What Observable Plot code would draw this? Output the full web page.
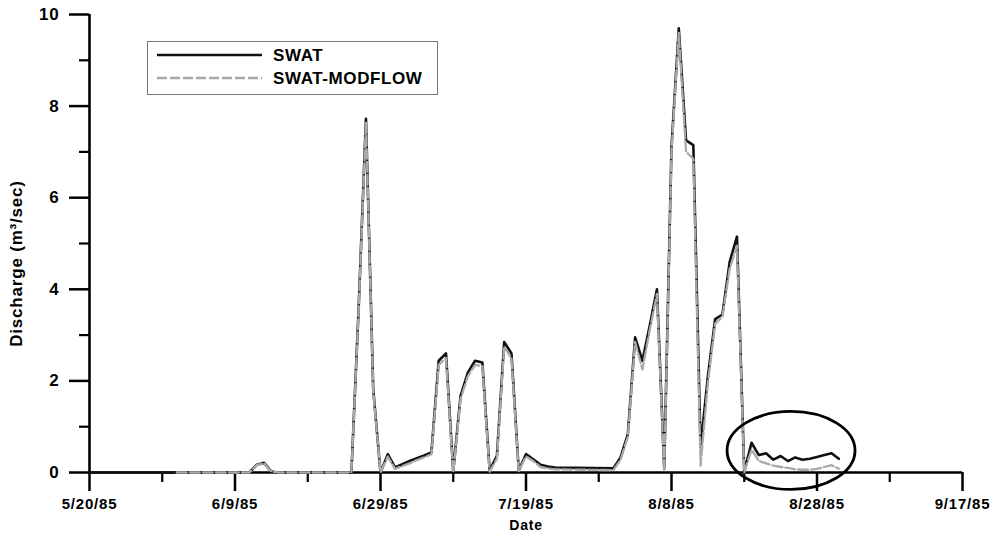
<!DOCTYPE html>
<html>
<head>
<meta charset="utf-8">
<script src="https://cdn.jsdelivr.net/npm/d3@7"></script>
<script src="https://cdn.jsdelivr.net/npm/@observablehq/plot@0.6"></script>
<style>
  html, body { margin: 0; padding: 0; background: #fff; }
  #chart { position: relative; width: 993px; height: 533px; font-family: "Liberation Sans", Arial, sans-serif; }
  #legend { position: absolute; left: 147px; top: 41px; }
</style>
</head>
<body>
<div id="chart"><div id="legend"></div></div>
<script>
// ---- data ----
const dates = [
  "1985-05-20","1985-06-01","1985-06-11","1985-06-12","1985-06-13","1985-06-14","1985-06-15","1985-06-25",
  "1985-06-26","1985-06-27","1985-06-28","1985-06-29","1985-06-30","1985-07-01","1985-07-02","1985-07-03",
  "1985-07-04","1985-07-05","1985-07-06","1985-07-07","1985-07-08","1985-07-09","1985-07-10","1985-07-11",
  "1985-07-12","1985-07-13","1985-07-14","1985-07-15","1985-07-16","1985-07-17","1985-07-18","1985-07-19",
  "1985-07-20","1985-07-21","1985-07-22","1985-07-23","1985-07-31","1985-08-01","1985-08-02","1985-08-03",
  "1985-08-04","1985-08-05","1985-08-06","1985-08-07","1985-08-08","1985-08-09","1985-08-10","1985-08-11",
  "1985-08-12","1985-08-13","1985-08-14","1985-08-15","1985-08-16","1985-08-17","1985-08-18","1985-08-19",
  "1985-08-20","1985-08-21","1985-08-22","1985-08-23","1985-08-24","1985-08-25","1985-08-26","1985-08-27",
  "1985-08-28","1985-08-29","1985-08-30","1985-08-31"
];
const swat = [
  0, 0, 0, 0.17, 0.21, 0.02, 0, 0,
  3.6, 7.72, 1.82, 0.0, 0.4, 0.11, 0.18, 0.25,
  0.31, 0.37, 0.44, 2.44, 2.6, 0.03, 1.67, 2.18,
  2.44, 2.4, 0.05, 0.36, 2.85, 2.6, 0.05, 0.4,
  0.29, 0.17, 0.13, 0.11, 0.09, 0.33, 0.84, 2.95,
  2.44, 3.2, 4.0, 0.1, 7.1, 9.7, 7.25, 7.15,
  0.55, 2.1, 3.35, 3.45, 4.6, 5.15, 0.02, 0.65,
  0.38, 0.42, 0.28, 0.36, 0.25, 0.33, 0.28, 0.3,
  0.34, 0.38, 0.42, 0.3
];
const swatModflow = [
  null, 0, 0, 0.16, 0.2, 0.02, 0, 0,
  3.55, 7.65, 1.78, 0.0, 0.35, 0.08, 0.14, 0.2,
  0.27, 0.33, 0.4, 2.35, 2.5, 0.0, 1.6, 2.1,
  2.35, 2.32, 0.02, 0.3, 2.75, 2.5, 0.03, 0.35,
  0.25, 0.12, 0.09, 0.07, 0.05, 0.28, 0.78, 2.85,
  2.25, 3.1, 3.9, 0.02, 7.0, 9.6, 7.0, 6.85,
  0.15, 1.95, 3.25, 3.4, 4.45, 4.95, 0.0, 0.5,
  0.25, 0.2, 0.15, 0.12, 0.1, 0.07, 0.06, 0.06,
  0.08, 0.12, 0.16, 0.08
];
const seriesNames = ["SWAT", "SWAT-MODFLOW"];
const xDomain = ["1985-05-20", "1985-09-17"];
const xTicks = ["1985-05-20","1985-06-09","1985-06-29","1985-07-19","1985-08-08","1985-08-28","1985-09-17"];
const xTickLabels = ["5/20/85","6/9/85","6/29/85","7/19/85","8/8/85","8/28/85","9/17/85"];
const xMinorTicks = ["1985-05-30","1985-06-19","1985-07-09","1985-07-29","1985-08-18","1985-09-07"];
const yTicks = [0, 2, 4, 6, 8, 10];
const yMinorTicks = [1, 3, 5, 7, 9];
const xTitle = "Date";
const yTitle = "Discharge (m³/sec)";
// circled annotation (centre in data units)
const circleCenterDate = "1985-08-24T12:00Z";
const circleCenterValue = 0.47;

// ---- styles ----
const colSwat = "#111";
const colModflow = "#a9a9a9";
const dashModflow = "10,3";
const fontStyle = {fontFamily: "'Liberation Sans', Arial, sans-serif", fontSize: "15px", fontWeight: "bold", letterSpacing: "0.8px"};

const rows = dates.map((d, i) => ({date: new Date(d), swat: swat[i], modflow: swatModflow[i]}));
const labelOf = new Map(xTicks.map((d, i) => [+new Date(d), xTickLabels[i]]));

function ellipseMark(index, scales) {
  const el = document.createElementNS("http://www.w3.org/2000/svg", "ellipse");
  el.setAttribute("cx", scales.x(new Date(circleCenterDate)));
  el.setAttribute("cy", scales.y(circleCenterValue));
  el.setAttribute("rx", 64);
  el.setAttribute("ry", 39);
  el.setAttribute("fill", "none");
  el.setAttribute("stroke", "#000");
  el.setAttribute("stroke-width", 2.8);
  return el;
}

const plot = Plot.plot({
  width: 993,
  height: 533,
  marginLeft: 89,
  marginRight: 31,
  marginTop: 14,
  marginBottom: 61,
  style: {...fontStyle, background: "#fff", overflow: "visible"},
  x: {type: "utc", domain: xDomain.map(d => new Date(d)), axis: null},
  y: {domain: [0, 10], axis: null},
  marks: [
    Plot.ruleY([0], {stroke: "#000", strokeWidth: 2.6}),
    Plot.ruleX([new Date(xDomain[0])], {y1: 0, y2: 10, stroke: "#000", strokeWidth: 2.6}),
    Plot.axisY(yTicks, {tickSize: 20, tickPadding: 10, strokeWidth: 2.5, fontSize: 17, label: null}),
    Plot.axisY(yMinorTicks, {tickSize: 10, strokeWidth: 2.2, tickFormat: () => "", label: null}),
    Plot.axisX(xTicks.map(d => new Date(d)), {tickSize: 19, tickPadding: 7, strokeWidth: 2.5,
      tickFormat: d => labelOf.get(+d), label: null}),
    Plot.axisX(xMinorTicks.map(d => new Date(d)), {tickSize: 10, strokeWidth: 2.2, tickFormat: () => "", label: null}),
    Plot.lineY(rows, {x: "date", y: "swat", stroke: colSwat, strokeWidth: 2.6}),
    Plot.lineY(rows.filter(r => r.modflow != null), {x: "date", y: "modflow", stroke: colModflow,
      strokeWidth: 2.3, strokeDasharray: dashModflow}),
    Plot.text([xTitle], {frameAnchor: "bottom", lineAnchor: "bottom", dy: 57, fontSize: 14}),
    Plot.text([yTitle], {frameAnchor: "left", textAnchor: "middle", rotate: -90, dx: -73, dy: 20,
      fontSize: 17, letterSpacing: "1px"}),
    ellipseMark
  ]
});
document.getElementById("chart").prepend(plot);

// ---- legend ----
const lw = 291, lh = 54;
const lg = d3.select("#legend").append("svg").attr("width", lw).attr("height", lh)
  .style("display", "block");
lg.append("rect").attr("x", 0.5).attr("y", 0.5).attr("width", lw - 1).attr("height", lh - 1)
  .attr("fill", "#fff").attr("stroke", "#777").attr("stroke-width", 1);
const legendItems = [
  {name: seriesNames[0], stroke: colSwat, width: 2.6, dash: null, y: 14},
  {name: seriesNames[1], stroke: colModflow, width: 2.3, dash: dashModflow, y: 37}
];
for (const it of legendItems) {
  lg.append("line").attr("x1", 10).attr("x2", 115).attr("y1", it.y).attr("y2", it.y)
    .attr("stroke", it.stroke).attr("stroke-width", it.width).attr("stroke-dasharray", it.dash);
  lg.append("text").attr("x", 126).attr("y", it.y).attr("dy", "0.36em")
    .attr("font-family", "'Liberation Sans', Arial, sans-serif").attr("font-size", 17)
    .attr("font-weight", "bold").attr("letter-spacing", "0.6px").text(it.name);
}
</script>
</body>
</html>
